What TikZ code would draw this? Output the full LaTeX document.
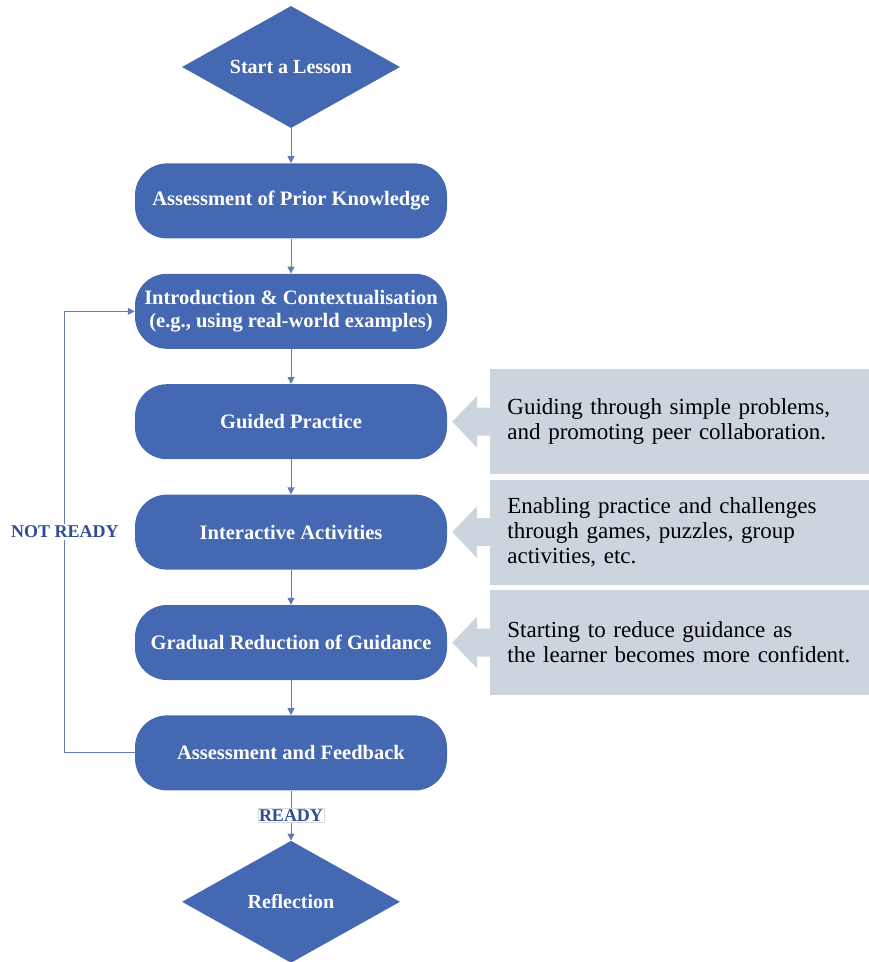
\documentclass[tikz,border=0pt]{standalone}
\usepackage{fontspec}
\setmainfont{Liberation Serif}
\usetikzlibrary{positioning,shapes.geometric,arrows.meta}
\definecolor{stepblue}{HTML}{4468B2}
\definecolor{linkblue}{HTML}{627AB6}
\definecolor{notegray}{HTML}{CCD4DE}
\definecolor{labelblue}{HTML}{2F4C94}
\begin{document}
\begin{tikzpicture}[x=1pt,y=1pt,node distance=35pt,
                stage/.style={fill=stepblue,rounded corners=32pt,minimum width=312pt,minimum height=75pt,text=white,align=center,font=\fontsize{20.5}{23}\selectfont\bfseries},
                decision/.style={diamond,fill=stepblue,aspect=1.8,minimum width=218pt,minimum height=122pt,inner sep=0pt,text=white,font=\fontsize{20}{23}\selectfont\bfseries},
                note/.style={fill=notegray,minimum width=379pt,minimum height=105pt,text width=345pt,inner xsep=17pt,align=left,font=\fontsize{23}{25}\selectfont},
                tag/.style={fill=white,text=labelblue,inner sep=2pt,font=\fontsize{18}{20}\selectfont\bfseries},
                flow/.style={->,draw=linkblue,line width=1pt},
                >={Triangle[length=7pt,width=7pt]}]
                \useasboundingbox (0,0) rectangle (869,-962);
                \node[decision](start) at (291,-67){Start a Lesson};
                \node[stage](prior)[below=of start]{Assessment of Prior Knowledge};
                \node[stage](intro)[below=of prior]{Introduction \& Contextualisation\\(e.g., using real-world examples)};
                \node[stage](guided)[below=of intro]{Guided Practice};
                \node[stage](inter)[below=of guided]{Interactive Activities};
                \node[stage](reduce)[below=of inter]{Gradual Reduction of Guidance};
                \node[stage](feedback)[below=of reduce]{Assessment and Feedback};
                \node[decision](refl)[below=50pt of feedback]{Reflection};
                % side notes
                \node[note](guidenote)[right=43pt of guided]{Guiding through simple problems,\\and promoting peer collaboration.};
                \node[note](playnote)[right=43pt of inter]{Enabling practice and challenges\\through games, puzzles, group\\activities, etc.};
                \node[note](fadenote)[right=43pt of reduce]{Starting to reduce guidance as\\the learner becomes more confident.};
                \foreach \n in {guidenote,playnote,fadenote}
                    \fill[notegray] (\n.west) ++(0,14) -- ++(-13,0) -- ++(0,12) -- ++(-25,-26) -- ++(25,-26) -- ++(0,12) -- ++(13,0) -- cycle;
                \draw[flow](start) -- (prior);
                \draw[flow](prior) -- (intro);
                \draw[flow](intro) -- (guided);
                \draw[flow](guided) -- (inter);
                \draw[flow](inter) -- (reduce);
                \draw[flow](reduce) -- (feedback);
                \draw[flow](feedback) -- node[tag,draw=black!15,inner sep=1pt](ready){READY} (refl);
                \draw[flow](feedback.west) -- ++(-70,0) coordinate(turn) |- (intro.west);
                \node[tag](notready) at (turn |- inter){NOT READY};
            \end{tikzpicture}
\end{document}
